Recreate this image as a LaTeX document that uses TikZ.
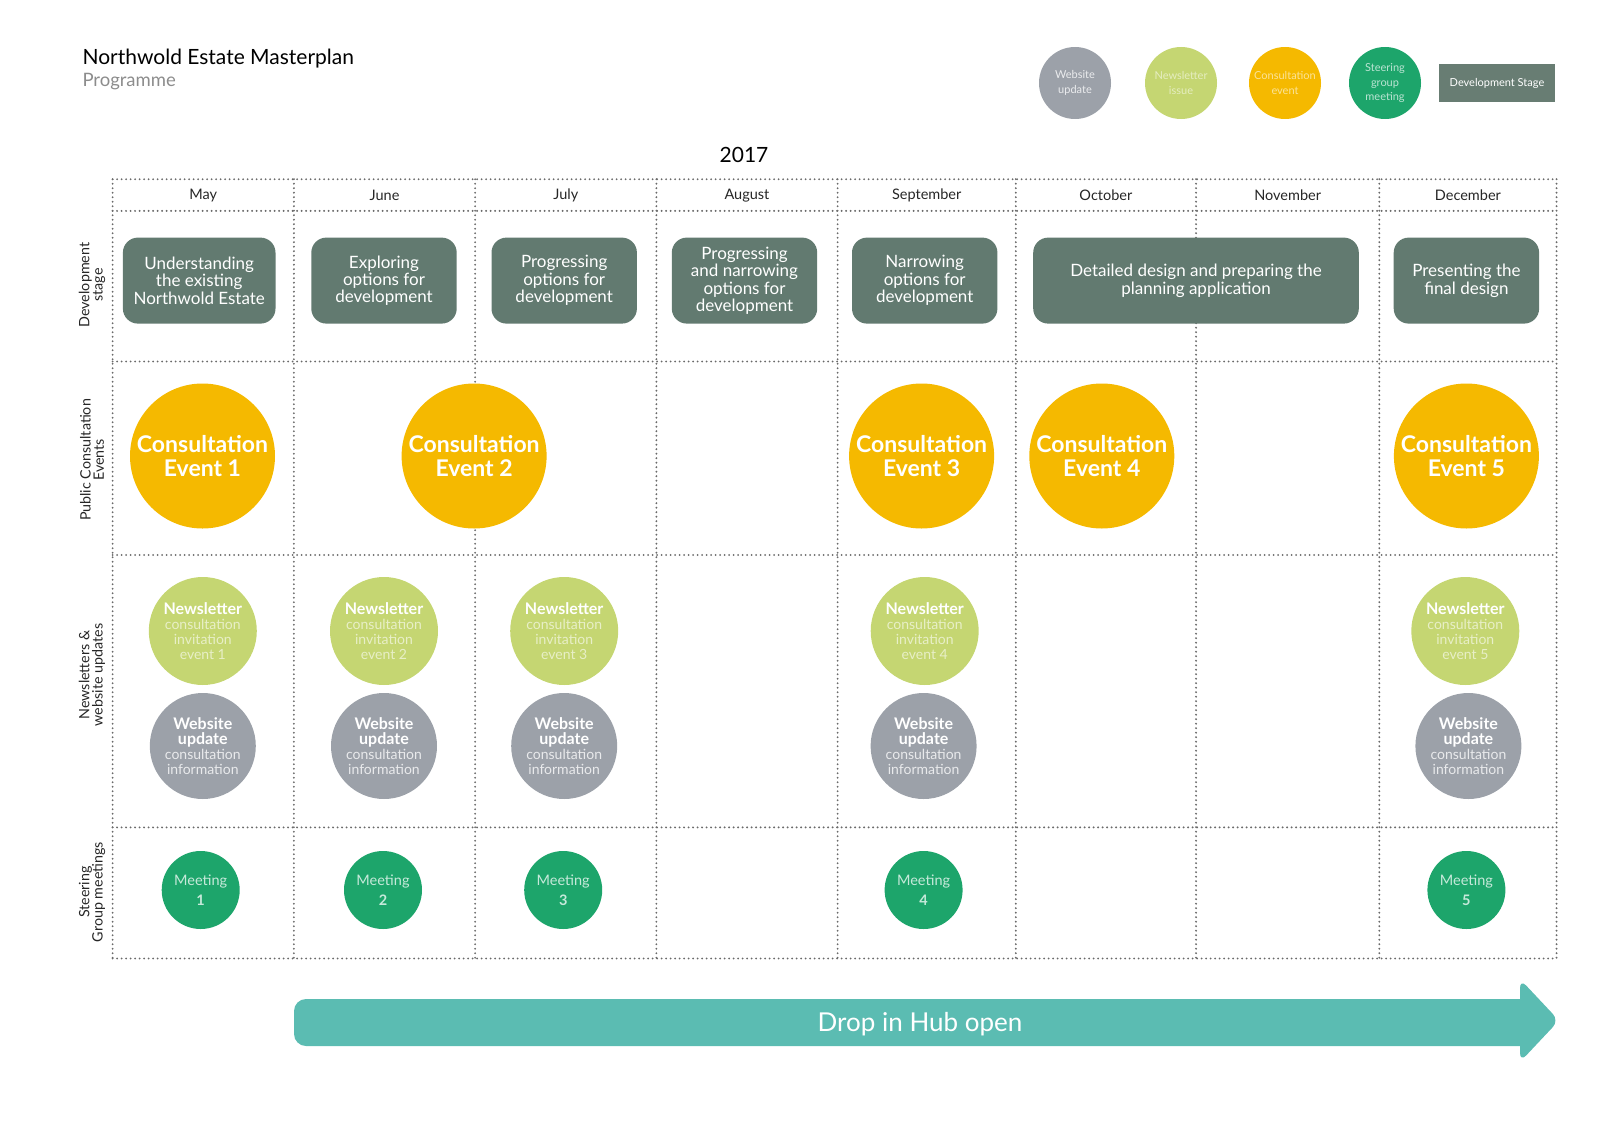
\documentclass[tikz,border=0pt]{standalone}
\usepackage{fontspec}
\setmainfont{Lato}
\usepackage{tikz}
\usetikzlibrary{shapes.geometric,positioning}

\definecolor{gridgrey}{HTML}{6A6A6A}
\definecolor{stagegrey}{HTML}{627A70}
\definecolor{keygrey}{HTML}{687D73}
\definecolor{eventyellow}{HTML}{F5B900}
\definecolor{newsgreen}{HTML}{C5D672}
\definecolor{webgrey}{HTML}{9CA1A9}
\definecolor{meetgreen}{HTML}{1DA56B}
\definecolor{hubteal}{HTML}{5BBCB2}

\begin{document}
\begin{tikzpicture}[x=1pt,y=-1pt]
			\tikzset{gridline/.style={draw=gridgrey,line width=2.1pt,line cap=round,dash pattern=on 0pt off 4.5pt}}
			\tikzset{monthlabel/.style={font=\fontsize{14.5}{16}\selectfont,text=black!85}}
			\tikzset{rowlabel/.style={rotate=90,align=center,text=black!85,font=\fontsize{14.3}{13.3}\selectfont}}
			\tikzset{stagebox/.style={rectangle,rounded corners=15pt,fill=stagegrey,text=white,align=center,minimum height=86pt,inner sep=0pt,font=\fontsize{17}{17.4}\selectfont}}
			\tikzset{eventdot/.style={circle,fill=eventyellow,minimum size=145pt,inner sep=0pt,align=center,text=white,font=\bfseries\fontsize{23}{23.5}\selectfont}}
			\tikzset{newsdot/.style={circle,fill=newsgreen,minimum size=108pt,inner sep=0pt,align=center,text=white!60!newsgreen,font=\fontsize{14}{14.8}\selectfont}}
			\tikzset{webdot/.style={circle,fill=webgrey,minimum size=106pt,inner sep=0pt,align=center,text=white!78!webgrey,font=\fontsize{14}{15}\selectfont}}
			\tikzset{meetdot/.style={circle,fill=meetgreen,minimum size=78pt,inner sep=0pt,align=center,text=white!75!meetgreen,font=\fontsize{14.5}{20}\selectfont}}
			\tikzset{keydot/.style={circle,minimum size=72pt,inner sep=0pt,align=center,font=\fontsize{11}{14.3}\selectfont}}
			\useasboundingbox (0,0) rectangle (1600,1132);
			% title
			\node[anchor=west,font=\fontsize{21}{23}\selectfont] (title) at (79,58.5) {Northwold Estate Masterplan};
			\node[anchor=west,font=\fontsize{18.5}{20}\selectfont,text=black!45] (subtitle) at (79,82) {Programme};
			% legend
			\node[keydot,fill=webgrey,text=white!80!webgrey] (key-web) at (1075,83) {Website\\update};
			\node[keydot,fill=newsgreen,text=white!55!newsgreen] (key-news) at (1181,83) {Newsletter\\issue};
			\node[keydot,fill=eventyellow,text=white!60!eventyellow] (key-event) at (1285,83) {Consultation\\event};
			\node[keydot,fill=meetgreen,text=white!70!meetgreen] (key-meet) at (1385,83) {Steering\\group\\meeting};
			\node[rectangle,fill=keygrey,text=white!85,minimum width=116pt,minimum height=37pt,inner sep=0pt,font=\fontsize{11}{13}\selectfont] (key-stage) at (1497,83) {Development Stage};
			% grid
			\node[font=\fontsize{21}{24}\selectfont] (year) at (744,155) {2017};
			\foreach \gx in {112.6,293.9,475.1,656.4,837.6,1015.8,1196,1379.3,1556.5}
				\draw[gridline] (\gx,179.2) -- (\gx,958.5);
			\foreach \gy in {179.2,210.9,361.5,555,827.4,958.5}
				\draw[gridline] (112.6,\gy) -- (1556.5,\gy);
			\foreach \m/\cx in {May/203.3,June/384.5,July/565.8,August/747,September/926.7,October/1105.9,November/1287.7,December/1467.9}
				\node[monthlabel] (month-\m) at (\cx,195.5) {\m};
			% row labels
			\node[rowlabel] (row-stage) at (92,285) {Development\\stage};
			\node[rowlabel] (row-event) at (92,460) {Public Consultation\\Events};
			\node[rowlabel] (row-news) at (92,675) {Newsletters \&\\website updates};
			\node[rowlabel] (row-meet) at (92,892) {Steering\\Group meetings};
			% development stages
			\node[stagebox,minimum width=152.6pt] (stage-1) at (199.2,280.6) {Understanding\\the existing\\Northwold Estate};
			\node[stagebox,minimum width=145.4pt] (stage-2) at (384,280.6) {Exploring\\options for\\development};
			\node[stagebox,minimum width=145.4pt] (stage-3) at (564.2,280.6) {Progressing\\options for\\development};
			\node[stagebox,minimum width=145.4pt] (stage-4) at (744.5,280.6) {Progressing\\and narrowing\\options for\\development};
			\node[stagebox,minimum width=145.4pt] (stage-5) at (924.7,280.6) {Narrowing\\options for\\development};
			\node[stagebox,minimum width=325.6pt] (stage-6) at (1196,280.6) {Detailed design and preparing the\\planning application};
			\node[stagebox,minimum width=145.4pt] (stage-7) at (1466.4,280.6) {Presenting the\\final design};
			% consultation events
			\foreach \n/\cx in {1/202.5,2/474.1,3/921.6,4/1101.8,5/1466.4}
				\node[eventdot] (event-\n) at (\cx,456) {Consultation\\Event \n};
			% newsletters and website updates
			\foreach \n/\cx/\wx in {1/202.8/202.8,2/384/384,3/564.2/564.2,4/924.7/923.6,5/1465.3/1468.4}{
				\node[newsdot] (news-\n) at (\cx,631) {{\color{white}\bfseries\fontsize{16}{14.8}\selectfont Newsletter}\\consultation\\invitation\\event \n};
				\node[webdot] (web-\n) at (\wx,746) {{\color{white}\bfseries\fontsize{16}{15}\selectfont Website}\\{\color{white}\bfseries\fontsize{16}{15}\selectfont update}\\consultation\\information};
			}
			% steering group meetings
			\foreach \n/\cx in {1/200.7,2/383,3/563.2,4/923.6,5/1466.4}
				\node[meetdot] (meet-\n) at (\cx,890) {Meeting\\\textbf{\n}};
			% drop in hub
			\fill[hubteal] [rounded corners=12pt] (1520,1046) -- (294,1046) -- (294,999) [sharp corners] -- (1520,999) [rounded corners=9pt] -- (1520,979) -- (1559,1020.5) -- (1520,1062) [sharp corners] -- cycle;
			\node[text=white,font=\fontsize{26}{29}\selectfont] (hub) at (920,1024) {Drop in Hub open};
		\end{tikzpicture}
\end{document}
